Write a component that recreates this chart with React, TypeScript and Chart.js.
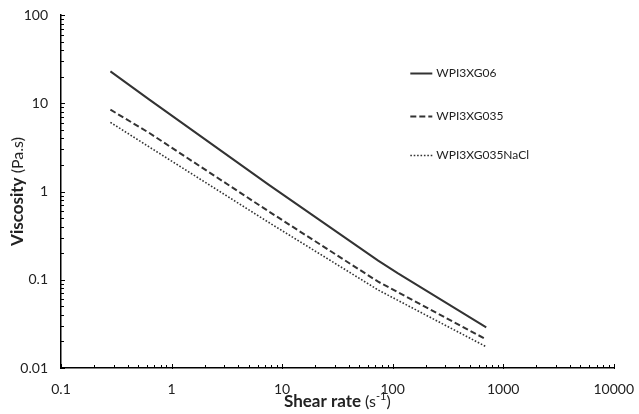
import React, { useEffect, useRef } from "react";
import { Chart, registerables } from "chart.js";

Chart.register(...registerables);

const seriesLabels = ["WPI3XG06", "WPI3XG035", "WPI3XG035NaCl"];
const solidX = [0.28, 0.63, 7.6, 74, 111, 703];
const solidY = [23.0, 11.0, 1.19, 0.165, 0.119, 0.0289];
const dashedX = [0.28, 0.63, 7.6, 74, 703];
const dashedY = [8.46, 4.6, 0.593, 0.095, 0.0211];
const dottedX = [0.28, 0.63, 7.6, 74, 703];
const dottedY = [6.07, 3.19, 0.445, 0.0766, 0.0174];
const xTickLabels = ["0.1", "1", "10", "100", "1000", "10000"];
const yTickLabels = ["0.01", "0.1", "1", "10", "100"];

const FONT = "Lato, 'Open Sans', sans-serif";
const INK = "#333333";

const toPoints = (xs: number[], ys: number[]) => xs.map((x, i) => ({ x, y: ys[i] }));

const decorPlugin = {
  id: "decor",
  afterDraw(chart: any) {
    const ctx = chart.ctx;
    const xs = chart.scales.x;
    const ys = chart.scales.y;
    const area = chart.chartArea;
    ctx.save();
    ctx.strokeStyle = "#000";
    ctx.lineWidth = 1;
    // inward ticks on x
    for (let e = -1; e <= 3; e++) {
      for (let m = 1; m <= 10; m++) {
        const v = m * Math.pow(10, e);
        if (v > 10000.0001) continue;
        const px = Math.round(xs.getPixelForValue(v)) + 0.5;
        const major = m === 1 || m === 10;
        ctx.beginPath();
        ctx.moveTo(px, area.bottom + (major ? 1 : 0));
        ctx.lineTo(px, area.bottom - (major ? 4 : 3));
        ctx.stroke();
      }
    }
    for (let e = -2; e <= 1; e++) {
      for (let m = 1; m <= 10; m++) {
        const v = m * Math.pow(10, e);
        const py = Math.round(ys.getPixelForValue(v)) + 0.5;
        const major = m === 1 || m === 10;
        ctx.beginPath();
        ctx.moveTo(area.left - (major ? 1 : 0), py);
        ctx.lineTo(area.left + (major ? 4 : 3), py);
        ctx.stroke();
      }
    }
    // legend
    const ds = chart.data.datasets;
    const legendX = area.left + (xs.getPixelForValue(1000) - area.left) * 0.79;
    const rowYs = [ys.getPixelForValue(22), ys.getPixelForValue(7.2), ys.getPixelForValue(2.6)];
    ctx.font = `12px ${FONT}`;
    ctx.textBaseline = "middle";
    ctx.fillStyle = "#222";
    ds.forEach((d: any, i: number) => {
      const y = Math.round(rowYs[i]) + 0.5;
      ctx.save();
      ctx.strokeStyle = d.borderColor;
      ctx.lineWidth = d.borderWidth;
      ctx.setLineDash(d.borderDash || []);
      ctx.beginPath();
      ctx.moveTo(legendX, y);
      ctx.lineTo(legendX + 22, y);
      ctx.stroke();
      ctx.restore();
      ctx.fillText(d.label, legendX + 26, y);
    });
    // x title
    const cx = (area.left + area.right) / 2;
    const ty = 402;
    const bold = `bold 17px ${FONT}`;
    const reg = `16px ${FONT}`;
    const sup = `11px ${FONT}`;
    ctx.fillStyle = "#222";
    const parts: [string, string, number][] = [
      ["Shear rate ", bold, 0],
      ["(s", reg, 0],
      ["-1", sup, -6],
      [")", reg, 0],
    ];
    let total = 0;
    parts.forEach(([t, f]) => {
      ctx.font = f;
      total += ctx.measureText(t).width;
    });
    let x0 = cx - total / 2;
    ctx.textAlign = "left";
    parts.forEach(([t, f, dy]) => {
      ctx.font = f;
      ctx.fillText(t, x0, ty + dy);
      x0 += ctx.measureText(t).width;
    });
    // y title
    const cy = (area.top + area.bottom) / 2;
    ctx.save();
    ctx.translate(18, cy);
    ctx.rotate(-Math.PI / 2);
    const yparts: [string, string][] = [
      ["Viscosity ", bold],
      ["(Pa.s)", reg],
    ];
    let tw = 0;
    yparts.forEach(([t, f]) => {
      ctx.font = f;
      tw += ctx.measureText(t).width;
    });
    let yx = -tw / 2;
    yparts.forEach(([t, f]) => {
      ctx.font = f;
      ctx.fillText(t, yx, 0);
      yx += ctx.measureText(t).width;
    });
    ctx.restore();
    ctx.restore();
  },
};

function ViscosityChart() {
  const ref = useRef<HTMLCanvasElement | null>(null);
  useEffect(() => {
    if (!ref.current) return;
    const isLabelled = (v: number, labels: string[]) =>
      labels.some((l) => Math.abs(parseFloat(l) - v) < 1e-9 * Math.max(1, v));
    const chart = new Chart(ref.current, {
      type: "line",
      data: {
        datasets: [
          {
            label: seriesLabels[0],
            data: toPoints(solidX, solidY),
            borderColor: INK,
            borderWidth: 2,
            pointRadius: 0,
            fill: false,
          },
          {
            label: seriesLabels[1],
            data: toPoints(dashedX, dashedY),
            borderColor: INK,
            borderWidth: 2,
            borderDash: [6, 3],
            pointRadius: 0,
            fill: false,
          },
          {
            label: seriesLabels[2],
            data: toPoints(dottedX, dottedY),
            borderColor: INK,
            borderWidth: 1.6,
            borderDash: [1.6, 1.8],
            pointRadius: 0,
            fill: false,
          },
        ],
      },
      options: {
        responsive: false,
        animation: false,
        layout: { padding: { left: 0, right: 22, top: 15, bottom: 0 } },
        plugins: { legend: { display: false }, tooltip: { enabled: false } },
        scales: {
          x: {
            type: "logarithmic",
            min: 0.1,
            max: 10000,
            grid: { display: false },
            border: { display: true, color: "#000", width: 1.5 },
            afterFit: (s: any) => {
              s.height = 46;
            },
            ticks: {
              autoSkip: false,
              maxRotation: 0,
              padding: 5,
              color: "#222",
              font: { family: FONT, size: 14 },
              callback: (v: any) => {
                const n = Number(v);
                const i = xTickLabels.findIndex((l) => Math.abs(parseFloat(l) - n) < 1e-9 * Math.max(1, n));
                return i >= 0 ? xTickLabels[i] : "";
              },
            },
          },
          y: {
            type: "logarithmic",
            min: 0.01,
            max: 100,
            grid: { display: false },
            border: { display: true, color: "#000", width: 1.5 },
            afterFit: (s: any) => {
              s.width = 61;
            },
            ticks: {
              autoSkip: false,
              padding: 5,
              color: "#222",
              font: { family: FONT, size: 14 },
              callback: (v: any) => {
                const n = Number(v);
                const i = yTickLabels.findIndex((l) => Math.abs(parseFloat(l) - n) < 1e-9 * Math.max(1, n));
                return i >= 0 ? yTickLabels[i] : "";
              },
            },
          },
        },
      } as any,
      plugins: [decorPlugin],
    });
    void isLabelled;
    return () => chart.destroy();
  }, []);
  return <canvas ref={ref} width={639} height={414} style={{ display: "block" }} />;
}

export default function App() {
  return (
    <div style={{ position: "fixed", left: 0, top: 0, width: 639, height: 414, background: "#fff" }}>
      <ViscosityChart />
    </div>
  );
}
